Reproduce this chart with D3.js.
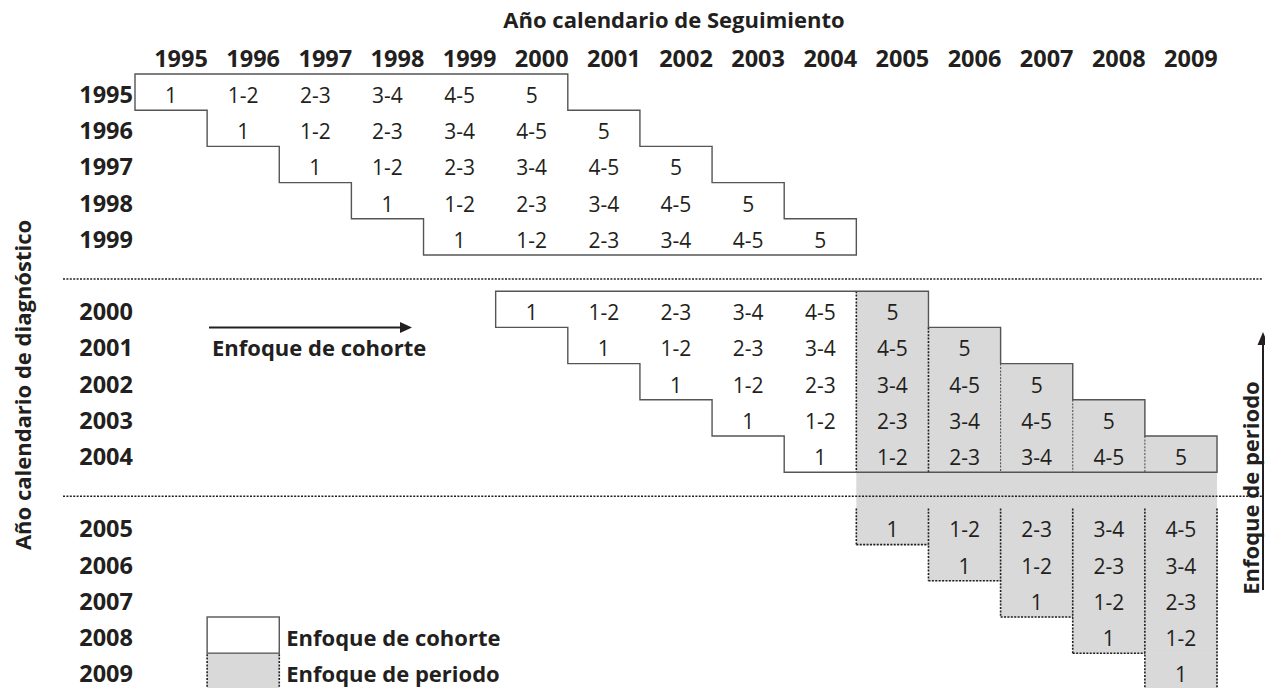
<!DOCTYPE html>
<html><head><meta charset="utf-8">
<script src="https://cdn.jsdelivr.net/npm/d3@7"></script>
<style>
body{margin:0;background:#fff}
svg{display:block}
text{font-family:"Open Sans",sans-serif;fill:#231f20}
</style>
</head><body>
<svg id="chart" width="1265" height="688"></svg>
<script>
// ---- data ----
const followYears = ["1995","1996","1997","1998","1999","2000","2001","2002","2003","2004","2005","2006","2007","2008","2009"];
const diagYears   = ["1995","1996","1997","1998","1999","2000","2001","2002","2003","2004","2005","2006","2007","2008","2009"];
const groupA = ["1995","1996","1997","1998","1999"];
const groupB = ["2000","2001","2002","2003","2004"];
const groupC = ["2005","2006","2007","2008","2009"];
const slotOrder = [...groupA, "gap1", ...groupB, "gap2", ...groupC];
const periodYears = ["2005","2006","2007","2008","2009"];
// interval labels per diagnosis year, starting at the diagnosis year column
const cellLabels = [
  ["1","1-2","2-3","3-4","4-5","5"],   // 1995
  ["1","1-2","2-3","3-4","4-5","5"],   // 1996
  ["1","1-2","2-3","3-4","4-5","5"],   // 1997
  ["1","1-2","2-3","3-4","4-5","5"],   // 1998
  ["1","1-2","2-3","3-4","4-5","5"],   // 1999
  ["1","1-2","2-3","3-4","4-5","5"],   // 2000
  ["1","1-2","2-3","3-4","4-5","5"],   // 2001
  ["1","1-2","2-3","3-4","4-5","5"],   // 2002
  ["1","1-2","2-3","3-4","4-5","5"],   // 2003
  ["1","1-2","2-3","3-4","4-5","5"],   // 2004
  ["1","1-2","2-3","3-4","4-5"],       // 2005
  ["1","1-2","2-3","3-4"],             // 2006
  ["1","1-2","2-3"],                   // 2007
  ["1","1-2"],                         // 2008
  ["1"]                                // 2009
];
const xTitle = "Año calendario de Seguimiento";
const yTitle = "Año calendario de diagnóstico";
const legendLabels = ["Enfoque de cohorte","Enfoque de periodo"];
const legendRows = ["2008","2009"];
const legendCol = "1996";
const cohortArrowLabel = "Enfoque de cohorte";
const periodArrowLabel = "Enfoque de periodo";

// ---- layout ----
const svg = d3.select("#chart");
const INK = "#231f20", GRAY = "#d9d9d9", EDGE = "#555555";
const x = d3.scaleBand().domain(followYears).range([135, 1217]);
const y = d3.scaleBand().domain(slotOrder).range([74, 74 + 17 * 36.2]);
const bw = x.bandwidth(), bh = y.bandwidth();

const cells = diagYears.flatMap((d, i) => cellLabels[i].map((lab, j) => ({
  diag: d, follow: followYears[followYears.indexOf(d) + j], label: lab
})));

// gray fills
svg.append("g").selectAll("rect").data(cells.filter(c => periodYears.includes(c.follow)))
  .join("rect")
  .attr("x", c => x(c.follow)).attr("y", c => y(c.diag))
  .attr("width", bw + 0.5).attr("height", bh + 0.5).attr("fill", GRAY);
svg.append("rect")
  .attr("x", x(periodYears[0])).attr("y", y("gap2"))
  .attr("width", x(periodYears[periodYears.length - 1]) + bw - x(periodYears[0]))
  .attr("height", bh + 0.5).attr("fill", GRAY);

const dotted = svg.append("g").attr("fill", "none").attr("stroke", INK)
  .attr("stroke-width", 1.6).attr("stroke-dasharray", "2,1.4");

function colSpan(rows, col) {
  const rs = rows.filter(r => cells.some(c => c.diag === r && c.follow === col));
  return rs.length ? [y(rs[0]), y(rs[rs.length - 1]) + bh] : null;
}
// group B dotted verticals (white/gray boundaries)
periodYears.forEach((col, k) => {
  const s = colSpan(groupB, col);
  if (s) dotted.append("line").attr("x1", x(col)).attr("x2", x(col)).attr("y1", s[0]).attr("y2", s[1])
    .attr("stroke-width", k < 2 ? 1.6 : 1.1).attr("stroke", k < 2 ? INK : "#555");
});
// group C dotted verticals and staircase bottoms
periodYears.forEach((col, k) => {
  const s = colSpan(groupC, col);
  if (s) dotted.append("line").attr("x1", x(col)).attr("x2", x(col)).attr("y1", s[0]).attr("y2", s[1]);
  if (k === periodYears.length - 1 && s)
    dotted.append("line").attr("x1", x(col) + bw).attr("x2", x(col) + bw).attr("y1", s[0]).attr("y2", s[1]);
});
groupC.forEach(r => {
  const first = cells.find(c => c.diag === r);
  const yb = y(r) + bh;
  dotted.append("line").attr("x1", x(first.follow)).attr("x2", x(first.follow) + bw).attr("y1", yb).attr("y2", yb);
});

// solid staircase outlines for cohort groups
function stairPath(rows) {
  const r = rows.map(d => {
    const cs = cells.filter(c => c.diag === d);
    return { l: x(cs[0].follow), rr: x(cs[cs.length - 1].follow) + bw, t: y(d), b: y(d) + bh };
  });
  let p = `M${r[0].l},${r[0].t}`;
  r.forEach(o => { p += `H${o.rr}V${o.b}`; });
  for (let i = r.length - 1; i >= 0; i--) p += `H${r[i].l}V${r[i].t}`;
  return p + "Z";
}
[groupA, groupB].forEach(g => {
  svg.append("path").attr("d", stairPath(g)).attr("fill", "none")
    .attr("stroke", EDGE).attr("stroke-width", 1.4);
});

// dotted separators between groups
["gap1", "gap2"].forEach(gp => {
  const yy = y(gp) + 24;
  svg.append("line").attr("x1", 63).attr("x2", 1263).attr("y1", yy).attr("y2", yy)
    .attr("stroke", INK).attr("stroke-width", 1.6).attr("stroke-dasharray", "2,1.4");
});

// cell labels
svg.append("g").selectAll("text").data(cells).join("text")
  .attr("x", c => x(c.follow) + bw / 2).attr("y", c => y(c.diag) + 29)
  .attr("text-anchor", "middle").style("font-size", "21px")
  .text(c => c.label);

// column headers
svg.append("g").selectAll("text").data(followYears).join("text")
  .attr("x", d => x(d) + bw / 2 + 10).attr("y", 67)
  .attr("text-anchor", "middle").style("font-size", "23.5px").style("font-weight", 700)
  .text(d => d);

// row labels
svg.append("g").selectAll("text").data(diagYears).join("text")
  .attr("x", 133).attr("y", d => y(d) + 29)
  .attr("text-anchor", "end").style("font-size", "23.5px").style("font-weight", 700)
  .text(d => d);

// titles
svg.append("text").attr("x", 674).attr("y", 28).attr("text-anchor", "middle")
  .style("font-size", "22px").style("font-weight", 700).text(xTitle);
svg.append("text").attr("transform", "translate(31,385) rotate(-90)").attr("text-anchor", "middle")
  .style("font-size", "22px").style("font-weight", 700).text(yTitle);

// cohort arrow
const arrowY = y(groupB[1]);
svg.append("line").attr("x1", 209).attr("x2", 400).attr("y1", arrowY).attr("y2", arrowY)
  .attr("stroke", INK).attr("stroke-width", 2);
svg.append("path").attr("d", `M400,${arrowY - 5.5}L412,${arrowY}L400,${arrowY + 5.5}Z`).attr("fill", INK);
svg.append("text").attr("x", 212).attr("y", y(groupB[1]) + 29)
  .style("font-size", "22px").style("font-weight", 700).text(cohortArrowLabel);

// period arrow (vertical, right)
svg.append("line").attr("x1", 1263).attr("x2", 1263).attr("y1", 590).attr("y2", 344)
  .attr("stroke", INK).attr("stroke-width", 2);
svg.append("path").attr("d", "M1257.5,345L1263,332L1268.5,345Z").attr("fill", INK);
svg.append("text").attr("transform", "translate(1259,488) rotate(-90)").attr("text-anchor", "middle")
  .style("font-size", "22px").style("font-weight", 700).text(periodArrowLabel);

// legend
const lx = x(legendCol);
svg.append("rect").attr("x", lx).attr("y", y(legendRows[0])).attr("width", bw).attr("height", bh)
  .attr("fill", "#fff").attr("stroke", EDGE).attr("stroke-width", 1.4);
svg.append("rect").attr("x", lx).attr("y", y(legendRows[1]) + 0.7).attr("width", bw).attr("height", bh)
  .attr("fill", GRAY);
[lx, lx + bw].forEach(xx => {
  svg.append("line").attr("x1", xx).attr("x2", xx).attr("y1", y(legendRows[1]) + 1).attr("y2", 688)
    .attr("stroke", INK).attr("stroke-width", 1.6).attr("stroke-dasharray", "2,1.4");
});
legendLabels.forEach((lab, i) => {
  svg.append("text").attr("x", lx + bw + 7).attr("y", y(legendRows[i]) + 29)
    .style("font-size", "22px").style("font-weight", 700).text(lab);
});
</script>
</body></html>
